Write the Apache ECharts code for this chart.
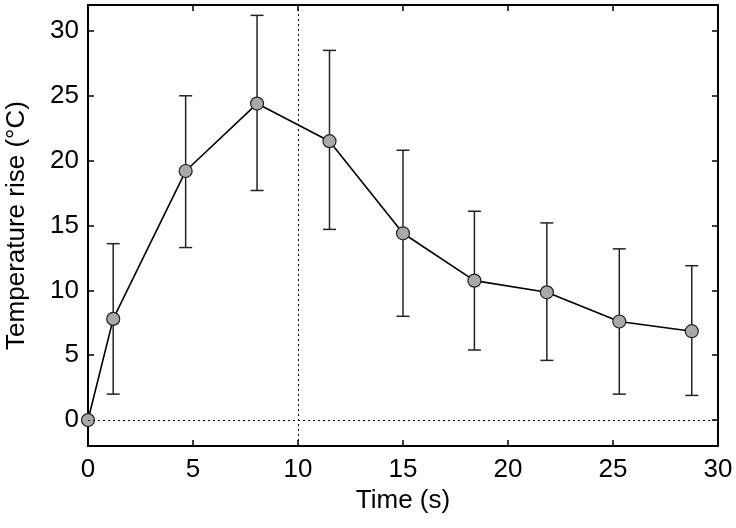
<!DOCTYPE html>
<html>
<head>
<meta charset="utf-8">
<script src="https://cdn.jsdelivr.net/npm/echarts@6/dist/echarts.min.js"></script>
<style>html,body{margin:0;padding:0;background:#fff;}#c{width:736px;height:528px;}</style>
</head>
<body>
<div id="c"></div>
<script>
var times = [0, 1.2, 4.65, 8.05, 11.5, 15.0, 18.4, 21.85, 25.3, 28.75];
var tempRise = [0, 7.8, 19.2, 24.4, 21.5, 14.4, 10.75, 9.85, 7.6, 6.85];
var errUpper = [0, 13.6, 25.0, 31.2, 28.5, 20.8, 16.1, 15.2, 13.2, 11.9];
var errLower = [0, 2.0, 13.3, 17.7, 14.7, 8.0, 5.4, 4.6, 2.0, 1.9];
var xTicks = [0, 5, 10, 15, 20, 25, 30];
var yTicks = [0, 5, 10, 15, 20, 25, 30];

var FONT = 'Liberation Sans, Arial, Helvetica, sans-serif';
var FS = 26;
var lineData = times.map(function (t, i) { return [t, tempRise[i]]; });
var errData = times.map(function (t, i) { return [t, errLower[i], errUpper[i]]; }).filter(function (d) { return d[2] > d[1]; });

var chart = echarts.init(document.getElementById('c'), null, {renderer: 'canvas'});
var frameLine = {show: true, onZero: false, lineStyle: {color: '#000', width: 2}};
var tickStyle = {show: true, inside: true, length: 6, lineStyle: {color: '#000', width: 1.5}};
var option = {
  animation: false,
  backgroundColor: '#fff',
  grid: {left: 88, right: 18, top: 5, bottom: 82, containLabel: false, outerBoundsMode: 'none'},
  xAxis: [{
    type: 'value', min: 0, max: 30, interval: 5, position: 'bottom',
    name: 'Time (s)', nameLocation: 'middle', nameGap: 36,
    nameTextStyle: {fontFamily: FONT, fontSize: FS, color: '#000'},
    axisLine: frameLine,
    axisTick: Object.assign({customValues: xTicks}, tickStyle),
    axisLabel: {fontFamily: FONT, fontSize: FS, color: '#000', margin: 11, customValues: xTicks},
    splitLine: {show: false}
  }, {
    type: 'value', min: 0, max: 30, interval: 5, position: 'top',
    axisLine: frameLine,
    axisTick: Object.assign({customValues: xTicks}, tickStyle),
    axisLabel: {show: false},
    splitLine: {show: false}
  }],
  yAxis: [{
    type: 'value', min: -2, max: 32, position: 'left',
    name: 'Temperature rise (°C)', nameLocation: 'middle', nameGap: 58, nameRotate: 90,
    nameTextStyle: {fontFamily: FONT, fontSize: FS, color: '#000'},
    axisLine: frameLine,
    axisTick: Object.assign({customValues: yTicks}, tickStyle),
    axisLabel: {fontFamily: FONT, fontSize: FS, color: '#000', margin: 9, customValues: yTicks},
    splitLine: {show: false}
  }, {
    type: 'value', min: -2, max: 32, position: 'right',
    axisLine: frameLine,
    axisTick: Object.assign({customValues: yTicks}, tickStyle),
    axisLabel: {show: false},
    splitLine: {show: false}
  }],
  series: [{
    type: 'custom',
    xAxisIndex: 0, yAxisIndex: 0,
    z: 2,
    data: errData,
    renderItem: function (params, api) {
      var x = api.value(0);
      var lo = api.coord([x, api.value(1)]);
      var hi = api.coord([x, api.value(2)]);
      var hw = 6.5;
      var st = {stroke: '#222', lineWidth: 1.5, fill: null};
      return {
        type: 'group',
        children: [
          {type: 'line', shape: {x1: lo[0], y1: lo[1], x2: hi[0], y2: hi[1]}, style: st},
          {type: 'line', shape: {x1: lo[0] - hw, y1: lo[1], x2: lo[0] + hw, y2: lo[1]}, style: st},
          {type: 'line', shape: {x1: hi[0] - hw, y1: hi[1], x2: hi[0] + hw, y2: hi[1]}, style: st}
        ]
      };
    }
  }, {
    type: 'line',
    xAxisIndex: 0, yAxisIndex: 0,
    z: 3,
    data: lineData,
    symbol: 'circle',
    symbolSize: 13,
    lineStyle: {color: '#000', width: 1.6},
    itemStyle: {color: '#a9a9a9', borderColor: '#222', borderWidth: 1.2},
    markLine: {
      silent: true,
      symbol: ['none', 'none'],
      label: {show: false},
      lineStyle: {color: '#000', type: [2, 3], width: 1},
      data: [{xAxis: 10}, {yAxis: 0}]
    }
  }]
};
chart.setOption(option);
</script>
</body>
</html>
